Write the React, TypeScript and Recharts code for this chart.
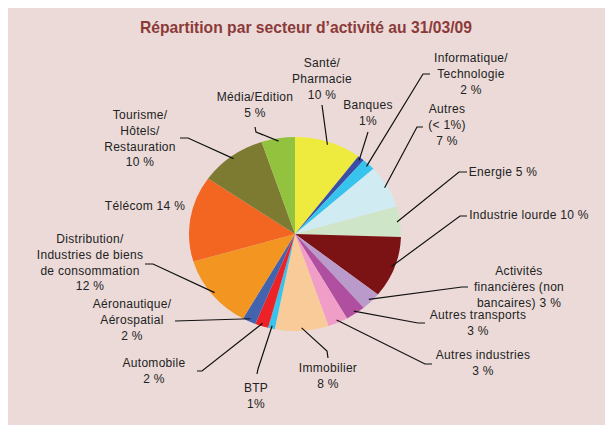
import { PieChart, Pie, Cell } from "recharts";

const sectors = [
  "Santé/Pharmacie",
  "Banques",
  "Informatique/Technologie",
  "Autres (< 1%)",
  "Energie",
  "Industrie lourde",
  "Activités financières (non bancaires)",
  "Autres transports",
  "Autres industries",
  "Immobilier",
  "BTP",
  "Automobile",
  "Aéronautique/Aérospatial",
  "Distribution/Industries de biens de consommation",
  "Télécom",
  "Tourisme/Hôtels/Restauration",
  "Média/Edition",
];

const weights = [10, 1, 2, 7, 5, 10, 3, 3, 3, 8, 1, 2, 2, 12, 14, 10, 5];

// label lines, {p} gets the percentage
const labelLines = [
  ["Santé/", "Pharmacie", "{p}"],
  ["Banques", "{p}"],
  ["Informatique/", "Technologie", "{p}"],
  ["Autres", "(< 1%)", "{p}"],
  ["Energie {p}"],
  ["Industrie lourde {p}"],
  ["Activités", "financières (non", "bancaires) {p}"],
  ["Autres transports", "{p}"],
  ["Autres industries", "{p}"],
  ["Immobilier", "{p}"],
  ["BTP", "{p}"],
  ["Automobile", "{p}"],
  ["Aéronautique/", "Aérospatial", "{p}"],
  ["Distribution/", "Industries de biens", "de consommation", "{p}"],
  ["Télécom {p}"],
  ["Tourisme/", "Hôtels/", "Restauration", "{p}"],
  ["Média/Edition", "{p}"],
];

const COLORS = [
  "#EFEA3E",
  "#3A4EA6",
  "#36C4EF",
  "#D0EBF1",
  "#CFE5C7",
  "#7B1315",
  "#B99ACA",
  "#B04F9F",
  "#F09DC7",
  "#F9CB99",
  "#36C4EF",
  "#EC2227",
  "#4463AE",
  "#F39621",
  "#F26622",
  "#7C7B31",
  "#93C23F",
];

// label placement (page coords): text centre of first line + leader elbow points
const LAYOUT: { x: number; y: number; lead: [number, number][] }[] = [
  { x: 322, y: 63, lead: [[322, 105]] },
  { x: 368, y: 105, lead: [[368, 132]] },
  { x: 471, y: 58, lead: [[430, 74], [423, 74]] },
  { x: 447, y: 109, lead: [[423, 127], [417, 127]] },
  { x: 503, y: 172, lead: [[467, 172], [459, 172]] },
  { x: 529, y: 215, lead: [[467, 216], [460, 216]] },
  { x: 519, y: 271, lead: [[468, 287], [462, 287]] },
  { x: 478, y: 315, lead: [[425, 323], [418, 323]] },
  { x: 483, y: 355, lead: [[432, 364], [425, 364]] },
  { x: 328, y: 368, lead: [[328, 358], [327, 351]] },
  { x: 256, y: 388, lead: [[257, 374], [258, 369]] },
  { x: 154, y: 363, lead: [[197, 371], [202, 371]] },
  { x: 132, y: 304, lead: [[175, 321]] },
  { x: 90, y: 239, lead: [[145, 264], [153, 264]] },
  { x: 145, y: 206, lead: [] },
  { x: 140, y: 115, lead: [[180, 138], [188, 138]] },
  { x: 255, y: 97, lead: [[255, 127], [256, 132]] },
];

const data = sectors.map((name, i) => ({ name, value: weights[i] }));

const OX = 8;
const OY = 8;
const W = 597;
const H = 417;
const CX = 287;
const CY = 226;
const R = 106;
const SQUASH = 0.915;
const LINE_H = 15.6;
const FONT = '"Liberation Sans", Arial, sans-serif';

const fmt = (v: number) => (v === 1 ? "1%" : `${v} %`);

const renderLabel = (props: any) => {
  const { cx, cy, midAngle, outerRadius } = props;
  const name = props.name ?? props.payload?.name;
  let idx = sectors.indexOf(name);
  if (idx < 0) idx = props.index;
  const lay = LAYOUT[idx];
  const rad = (-midAngle * Math.PI) / 180;
  const ex = cx + outerRadius * 0.97 * Math.cos(rad);
  const ey = cy + outerRadius * SQUASH * 0.97 * Math.sin(rad);
  const pts = [...lay.lead.map(([x, y]) => [x - OX, y - OY]), [ex, ey]];
  const lines = labelLines[idx].map((l) => l.replace("{p}", fmt(weights[idx])));
  const tx = lay.x - OX;
  const ty = lay.y - OY + 4.3;
  return (
    <g key={`lbl-${idx}`}>
      {lay.lead.length > 0 && (
        <polyline
          points={pts.map((p) => p.join(",")).join(" ")}
          fill="none"
          stroke="#111"
          strokeWidth={1.2}
        />
      )}
      <text
        x={tx}
        y={ty}
        textAnchor="middle"
        fill="#222"
        fontSize={12}
        fontFamily={FONT}
        letterSpacing={0.3}
      >
        {lines.map((l, i) => (
          <tspan key={i} x={tx} dy={i === 0 ? 0 : LINE_H}>
            {l}
          </tspan>
        ))}
      </text>
    </g>
  );
};

export default function App() {
  return (
    <div
      className="pie-squash"
      style={{
        position: "fixed",
        left: OX,
        top: OY,
        width: W,
        height: H,
        background: "#EBDAD8",
      }}
    >
      <style>{`.pie-squash path.recharts-sector { transform: scale(1, ${SQUASH}); transform-origin: ${CX}px ${CY}px; }`}</style>
      <svg
        width={W}
        height={40}
        style={{ position: "absolute", left: 0, top: 0 }}
      >
        <text
          x={298}
          y={25}
          textAnchor="middle"
          fill="#8C3A39"
          fontSize={17}
          fontWeight="bold"
          fontFamily={FONT}
          textLength={332}
          lengthAdjust="spacingAndGlyphs"
        >
          Répartition par secteur d’activité au 31/03/09
        </text>
      </svg>
      <div style={{ position: "absolute", left: 0, top: 0 }}>
        <PieChart
          width={W}
          height={H}
          margin={{ top: 0, right: 0, bottom: 0, left: 0 }}
        >
          <Pie
            data={data}
            dataKey="value"
            nameKey="name"
            cx={CX}
            cy={CY}
            outerRadius={R}
            startAngle={90}
            endAngle={-270}
            stroke="none"
            labelLine={false}
            label={renderLabel}
            isAnimationActive={false}
          >
            {data.map((d, i) => (
              <Cell key={d.name} fill={COLORS[i]} />
            ))}
          </Pie>
        </PieChart>
      </div>
    </div>
  );
}
